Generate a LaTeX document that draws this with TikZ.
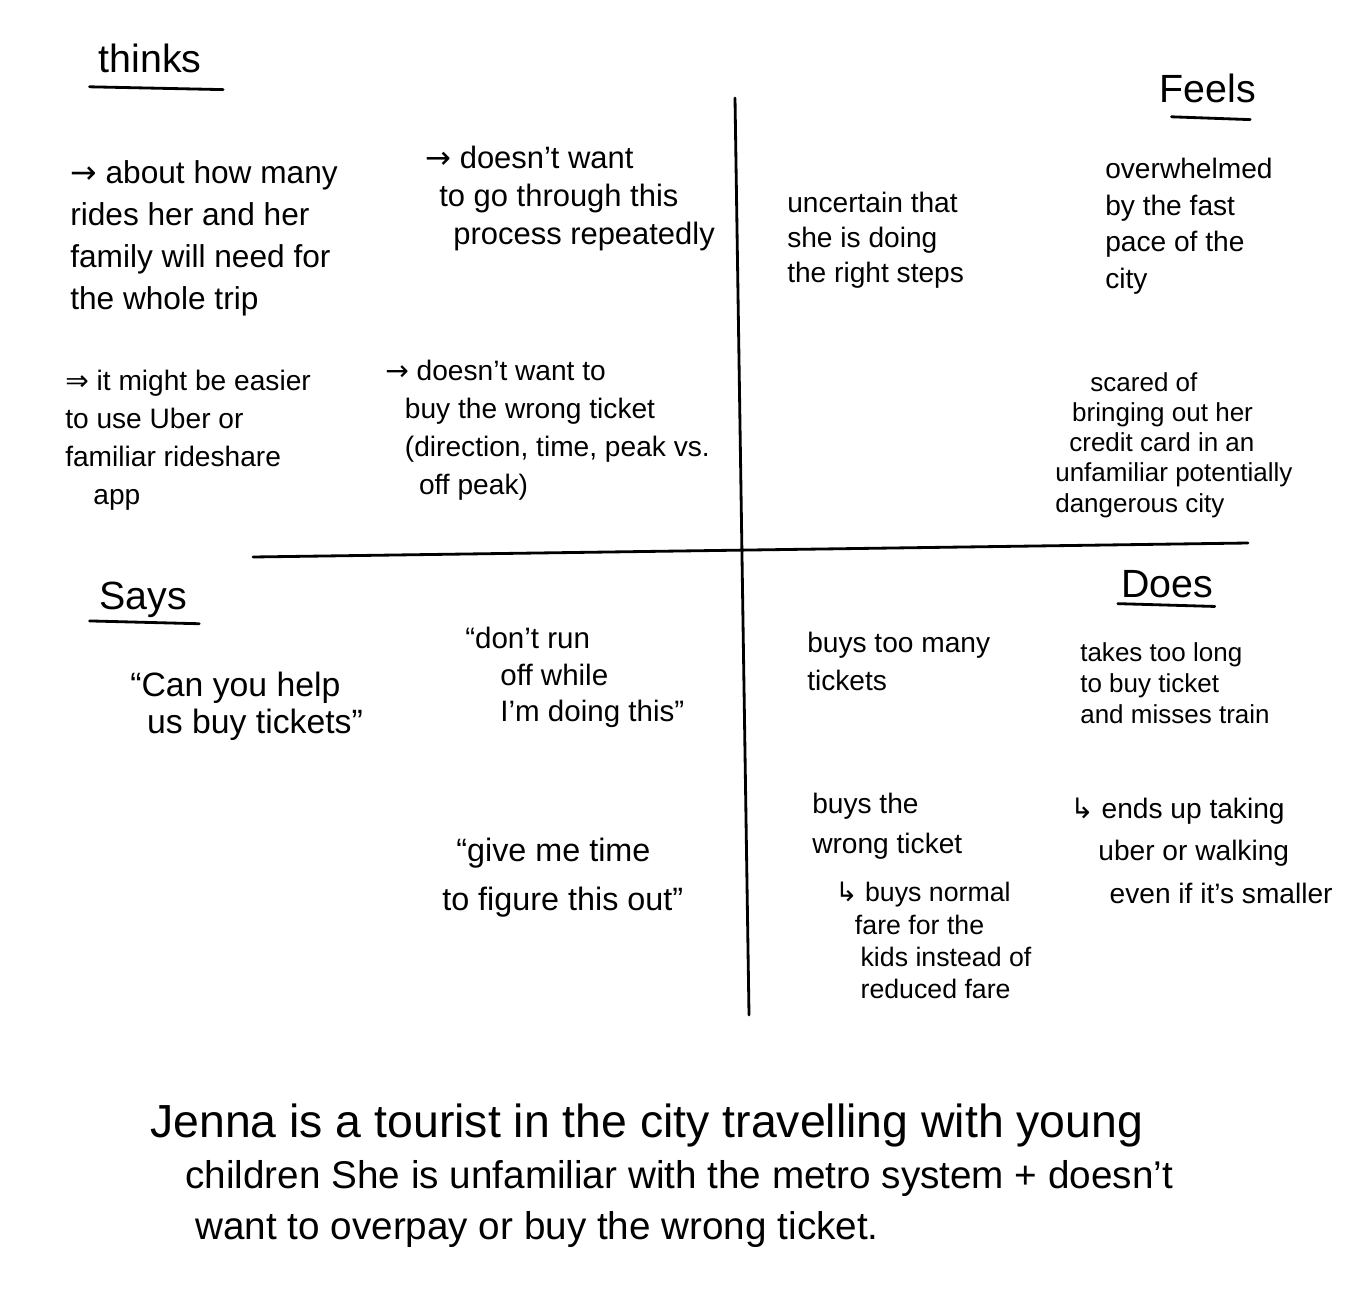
\documentclass[tikz,border=0pt]{standalone}
\usepackage{fontspec}
\setmainfont{Liberation Sans}
\newfontfamily\symfont{DejaVu Sans}
\newcommand{\ra}{{\symfont →}}
\newcommand{\dra}{{\symfont ⇒}}
\newcommand{\hra}{{\symfont ↳}}
\newcommand{\fs}[2]{\fontsize{#1}{#2}\selectfont}
\begin{document}
\begin{tikzpicture}[x=0.025cm,y=-0.025cm,
  ink/.style={line width=2pt,line cap=round,black},
  heading/.style={inner sep=0pt,font=\fs{28}{32}},
  note/.style={inner sep=0pt,anchor=north west,align=left,font=\fs{20}{27}},
  caption/.style={inner sep=0pt,anchor=north west,align=left,font=\fs{27.5}{36}}]
\useasboundingbox[fill=white] (0,0) rectangle (1372,1300);

% quadrant axes
\coordinate (vtop) at (735,98);
\coordinate (vbot) at (749,1015);
\coordinate (hleft) at (253,557);
\coordinate (hright) at (1248,543);
\draw[ink] (vtop) -- (vbot);
\draw[ink] (hleft) -- (hright);

% quadrant headings with underlines
\node[heading] (thinks) at (150,58) {thinks};
\draw[ink] ([xshift=-43pt,yshift=-10pt]thinks.south) -- ([xshift=52pt,yshift=-12pt]thinks.south);
\node[heading] (feels) at (1208,88) {Feels};
\draw[ink] ([xshift=-26pt,yshift=-10pt]feels.south) -- ([xshift=30pt,yshift=-12pt]feels.south);
\node[heading] (says) at (143,600) {Says};
\draw[ink] ([xshift=-38pt,yshift=-2pt]says.south) -- ([xshift=40pt,yshift=-4pt]says.south);
\node[heading] (does) at (1167,584) {Does};
\draw[ink] ([xshift=-35pt,yshift=-4pt]does.south) -- ([xshift=34pt,yshift=-6pt]does.south);

% thinks
\node[note,font=\fs{22.5}{30}] (t1) at (70,160) {\ra\ about how many\\ rides her and her\\ family will need for\\ the whole trip};
\node[note,font=\fs{22}{27}] (t2) at (425,146) {\ra\ doesn't want\\ \hspace*{10pt}to go through this\\ \hspace*{20pt}process repeatedly};
\node[note] (t3) at (65,370) {\dra\ it might be easier\\ to use Uber or\\ familiar rideshare\\ \hspace*{20pt}app};
\node[note] (t4) at (385,360) {\ra\ doesn't want to\\ \hspace*{14pt}buy the wrong ticket\\ \hspace*{14pt}(direction, time, peak vs.\\ \hspace*{24pt}off peak)};

% feels
\node[note,font=\fs{20}{25}] (f1) at (787,192) {uncertain that\\ she is doing\\ the right steps};
\node[note,font=\fs{20}{26}] (f2) at (1105,158) {overwhelmed\\ by the fast\\ pace of the\\ city};
\node[note,font=\fs{18.5}{21.5}] (f3) at (1055,372) {\hspace*{25pt}scared of\\ \hspace*{12pt}bringing out her\\ \hspace*{10pt}credit card in an\\ unfamiliar potentially\\ dangerous city};

% says
\node[note,font=\fs{24}{26}] (s1) at (130,672) {“Can you help\\ \hspace*{12pt}us buy tickets”};
\node[note,font=\fs{21}{26}] (s2) at (465,627) {“don't run\\ \hspace*{25pt}off while\\ \hspace*{25pt}I'm doing this”};
\node[note,font=\fs{23}{35}] (s3) at (442,838) {\hspace*{10pt}“give me time\\ to figure this out”};

% does
\node[note] (d1) at (807,632) {buys too many\\ tickets};
\node[note,font=\fs{18.5}{22}] (d2) at (1080,642) {takes too long\\ to buy ticket\\ and misses train};
\node[note,font=\fs{20}{28}] (d3) at (812,793) {buys the\\ wrong ticket};
\node[note,font=\fs{19}{23}] (d3b) at (835,882) {\hra\ buys normal\\ \hspace*{14pt}fare for the\\ \hspace*{18pt}kids instead of\\ \hspace*{18pt}reduced fare};
\node[note,font=\fs{20}{30}] (d4) at (1070,798) {\hra\ ends up taking\\ \hspace*{20pt}uber or walking\\ \hspace*{28pt}even if it's smaller};

% persona summary
\node[caption] (summary) at (150,1104) {\fs{33}{36}Jenna is a tourist in the city travelling with young\\ \fs{27.5}{36}\hspace*{25pt}children She is unfamiliar with the metro system + doesn't\\ \fs{27.5}{36}\hspace*{32pt}want to overpay or buy the wrong ticket.};
\end{tikzpicture}
\end{document}
